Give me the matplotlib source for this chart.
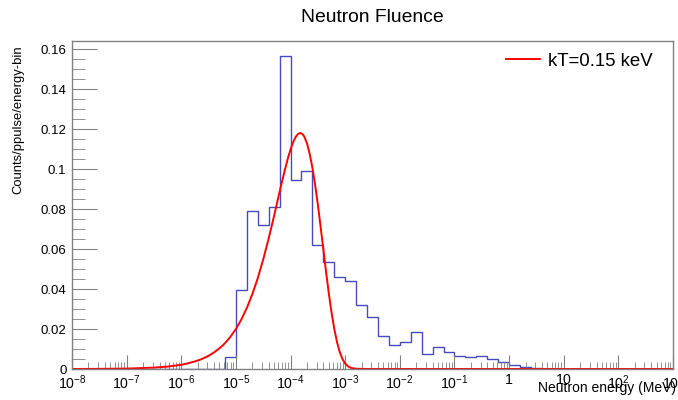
import numpy as np
import matplotlib
matplotlib.use('Agg')
import matplotlib.pyplot as plt
from matplotlib.ticker import FixedLocator, FixedFormatter, NullFormatter

plt.rcParams['font.family'] = ['Liberation Sans', 'DejaVu Sans']
plt.rcParams['mathtext.fontset'] = 'custom'
plt.rcParams['mathtext.rm'] = 'Liberation Sans'
plt.rcParams['mathtext.it'] = 'Liberation Sans'

# histogram: 5 bins per decade, 1e-8 .. 1e3 MeV
bin_edges = np.logspace(-8, 3, 56)
first_bin = 14  # bin starting at 10^-5.2
counts_nonzero = [0.0062, 0.0395, 0.079, 0.072, 0.0809, 0.1565, 0.0945, 0.099,
                  0.062, 0.0537, 0.046, 0.0439, 0.0318, 0.0258, 0.0167, 0.012,
                  0.0133, 0.0184, 0.0075, 0.011, 0.0083, 0.0067, 0.0059, 0.0065,
                  0.0048, 0.0033, 0.0018, 0.0008, 0.0003]
counts = np.zeros(55)
counts[first_bin:first_bin + len(counts_nonzero)] = counts_nonzero

# Maxwellian fit curve, kT = 0.15 keV
fit_log_e = [-8, -7.5, -7, -6.5, -6.25, -6, -5.9, -5.8, -5.75, -5.65, -5.6,
             -5.5, -5.4, -5.3, -5.25, -5.2, -5.1, -5, -4.9, -4.8, -4.7, -4.6,
             -4.5, -4.4, -4.3, -4.25, -4.2, -4.15, -4.1, -4.05, -4.0, -3.95,
             -3.9, -3.86, -3.82, -3.78, -3.75, -3.7, -3.65, -3.6, -3.55, -3.5,
             -3.45, -3.4, -3.35, -3.3, -3.25, -3.2, -3.15, -3.1, -3.05, -3.0,
             -2.95, -2.9, -2.8, -2.6, 3]
fit_vals = [0.0, 0.00007, 0.0002, 0.0007, 0.0012, 0.0021, 0.0027, 0.0034,
            0.0038, 0.0047, 0.0053, 0.0066, 0.0083, 0.0104, 0.0116, 0.0129,
            0.0161, 0.020, 0.0248, 0.0305, 0.0374, 0.0454, 0.0548, 0.0653,
            0.0767, 0.0827, 0.0886, 0.0944, 0.100, 0.1052, 0.1098, 0.1136,
            0.1163, 0.1176, 0.118, 0.1174, 0.1163, 0.1129, 0.1076, 0.1007,
            0.0921, 0.0822, 0.0712, 0.0599, 0.0486, 0.0379, 0.0283, 0.0201,
            0.0135, 0.0085, 0.0050, 0.0027, 0.0014, 0.0006, 0.0001, 0.0, 0.0]

x_major = [1e-8, 1e-7, 1e-6, 1e-5, 1e-4, 1e-3, 1e-2, 1e-1, 1, 10, 100, 1000]
x_labels = ['$10^{-8}$', '$10^{-7}$', '$10^{-6}$', '$10^{-5}$', '$10^{-4}$',
            '$10^{-3}$', '$10^{-2}$', '$10^{-1}$', '1', '10', '$10^{2}$', '$10^{3}$']
y_major = [0, 0.02, 0.04, 0.06, 0.08, 0.1, 0.12, 0.14, 0.16]
y_labels = ['0', '0.02', '0.04', '0.06', '0.08', '0.1', '0.12', '0.14', '0.16']

fig = plt.figure(figsize=(6.78, 4.0), dpi=100)
ax = fig.add_axes([72 / 678, 1 - 369 / 400, 601 / 678, 328 / 400])

ax.stairs(counts, bin_edges, color='#4848c0', lw=1.0)
ax.plot(10.0 ** np.array(fit_log_e), fit_vals, color='#ff0000', lw=1.4,
        label='kT=0.15 keV')

ax.set_xscale('log')
ax.set_xlim(1e-8, 1e3)
ax.set_ylim(0, 0.164)

ax.xaxis.set_major_locator(FixedLocator(x_major))
ax.xaxis.set_major_formatter(FixedFormatter(x_labels))
minor = [m * d for d in x_major[:-1] for m in range(2, 10)]
ax.xaxis.set_minor_locator(FixedLocator(minor))
ax.xaxis.set_minor_formatter(NullFormatter())

ax.yaxis.set_major_locator(FixedLocator(y_major))
ax.yaxis.set_major_formatter(FixedFormatter(y_labels))
ax.yaxis.set_minor_locator(FixedLocator(np.arange(0, 0.1641, 0.005)))

frame_c = '#808080'
for s in ax.spines.values():
    s.set_color(frame_c)
    s.set_linewidth(1.0)
ax.tick_params(axis='both', which='both', direction='in', color=frame_c,
               top=False, right=False, labelcolor='black')
ax.tick_params(axis='x', which='major', length=10, pad=3, labelsize=10.2)
ax.tick_params(axis='x', which='minor', length=5)
ax.tick_params(axis='y', which='major', length=18, pad=4, labelsize=9.5)
ax.tick_params(axis='y', which='minor', length=9)

fig.text(372 / 678, 1 - 17 / 400, 'Neutron Fluence', ha='center', va='center',
         fontsize=13.9)
fig.text(18 / 678, 1 - 45 / 400, 'Counts/ppulse/energy-bin', rotation=90,
         ha='center', va='top', fontsize=9.4)
fig.text(676 / 678, 1 - 388 / 400, 'Neutron energy (MeV)', ha='right',
         va='center', fontsize=10)

fig.legend(loc='center right', bbox_to_anchor=(653 / 678, 1 - 61 / 400),
           frameon=False, fontsize=13.4, handlelength=1.83, handletextpad=0.43,
           borderaxespad=0, borderpad=0)

fig.savefig('out.png', dpi=100)
